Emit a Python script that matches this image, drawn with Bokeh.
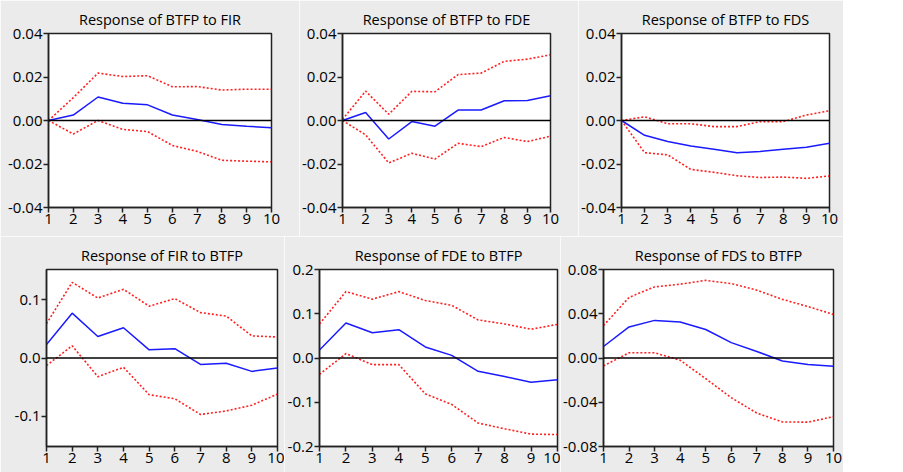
from bokeh.plotting import figure
from bokeh.layouts import column, row
from bokeh.models import Range1d, FixedTicker, NumeralTickFormatter, Span
from bokeh.embed import file_html
from bokeh.resources import INLINE

periods = [1, 2, 3, 4, 5, 6, 7, 8, 9, 10]

titles = ["Response of BTFP to FIR", "Response of BTFP to FDE", "Response of BTFP to FDS",
          "Response of FIR to BTFP", "Response of FDE to BTFP", "Response of FDS to BTFP"]

# Response of BTFP to FIR
btfp_fir = [0.0, 0.0025, 0.0108, 0.0079, 0.0072, 0.0025, 0.0005, -0.0018, -0.0027, -0.0033]
btfp_fir_up = [0.0, 0.0105, 0.0218, 0.0202, 0.0206, 0.0155, 0.0156, 0.0140, 0.0144, 0.0144]
btfp_fir_lo = [0.0, -0.0062, 0.0, -0.0041, -0.0051, -0.0115, -0.0142, -0.0183, -0.0187, -0.0190]

# Response of BTFP to FDE
btfp_fde = [0.0, 0.0037, -0.0085, -0.0005, -0.0026, 0.0048, 0.0048, 0.0091, 0.0092, 0.0114]
btfp_fde_up = [0.0005, 0.0135, 0.0029, 0.0134, 0.0132, 0.0211, 0.0218, 0.0272, 0.0282, 0.0302]
btfp_fde_lo = [0.0, -0.0066, -0.0195, -0.0151, -0.0177, -0.0105, -0.0120, -0.0078, -0.0097, -0.0072]

# Response of BTFP to FDS
btfp_fds = [0.0, -0.0068, -0.0097, -0.0117, -0.0132, -0.0148, -0.0142, -0.0132, -0.0123, -0.0105]
btfp_fds_up = [0.0, 0.0017, -0.0015, -0.0015, -0.0028, -0.0028, -0.0005, -0.0005, 0.0025, 0.0045]
btfp_fds_lo = [0.0, -0.0148, -0.0158, -0.0225, -0.0238, -0.0254, -0.0262, -0.0260, -0.0266, -0.0255]

# Response of FIR to BTFP
fir_btfp = [0.023, 0.077, 0.037, 0.052, 0.014, 0.016, -0.011, -0.009, -0.023, -0.017]
fir_btfp_up = [0.059, 0.130, 0.103, 0.118, 0.089, 0.102, 0.078, 0.072, 0.038, 0.036]
fir_btfp_lo = [-0.013, 0.021, -0.032, -0.016, -0.063, -0.070, -0.097, -0.091, -0.081, -0.062]

# Response of FDE to BTFP
fde_btfp = [0.018, 0.079, 0.057, 0.064, 0.025, 0.006, -0.030, -0.042, -0.055, -0.049]
fde_btfp_up = [0.077, 0.150, 0.133, 0.150, 0.130, 0.119, 0.086, 0.077, 0.065, 0.076]
fde_btfp_lo = [-0.037, 0.010, -0.015, -0.015, -0.081, -0.105, -0.147, -0.160, -0.172, -0.173]

# Response of FDS to BTFP
fds_btfp = [0.0104, 0.0281, 0.0340, 0.0326, 0.0258, 0.0139, 0.0059, -0.0027, -0.0059, -0.0074]
fds_btfp_up = [0.0293, 0.0548, 0.0643, 0.0667, 0.0702, 0.0673, 0.0613, 0.0530, 0.0465, 0.0394]
fds_btfp_lo = [-0.0071, 0.0047, 0.0047, -0.0020, -0.0187, -0.0359, -0.0498, -0.0578, -0.0580, -0.0530]

y_ticks_a = [-0.04, -0.02, 0.0, 0.02, 0.04]
y_ticks_fir = [-0.1, 0.0, 0.1]
y_ticks_fde = [-0.2, -0.1, 0.0, 0.1, 0.2]
y_ticks_fds = [-0.08, -0.04, 0.0, 0.04, 0.08]

FONT = "Open Sans"
BG = "#ebebeb"


def panel(title, mid, up, lo, yr, ticks, fmt, fw, fh, bl, br, bt, bb):
    p = figure(width=bl + fw + br, height=bt + fh + bb,
               min_border_left=bl, min_border_right=br,
               min_border_top=bt, min_border_bottom=bb,
               x_range=Range1d(1, 10), y_range=Range1d(*yr),
               output_backend="svg", toolbar_location=None)
    p.title.text = title
    p.title.align = "center"
    p.title.text_font = FONT
    p.title.text_font_size = "14.5px"
    p.title.text_font_style = "normal"
    p.title.text_color = "black"
    p.border_fill_color = BG
    p.background_fill_color = "white"
    p.outline_line_color = "#222222"
    p.outline_line_width = 1.5
    p.grid.visible = False
    for ax in (p.xaxis[0], p.yaxis[0]):
        ax.major_label_text_font = FONT
        ax.major_label_text_font_size = "15px"
        ax.major_label_text_color = "black"
        ax.axis_line_color = "#222222"
        ax.axis_line_width = 1.5
        ax.major_tick_line_color = "#222222"
        ax.major_tick_line_width = 1.5
        ax.major_tick_out = 5
        ax.major_tick_in = 0
        ax.minor_tick_line_color = None
        ax.major_label_standoff = 1
    p.xaxis.ticker = FixedTicker(ticks=periods)
    p.yaxis.ticker = FixedTicker(ticks=ticks)
    p.yaxis.formatter = NumeralTickFormatter(format=fmt)
    p.add_layout(Span(location=0, dimension="width", line_color="black", line_width=1.5))
    p.line(periods, up, line_color="#ff2020", line_width=1.6, line_dash="2 2")
    p.line(periods, lo, line_color="#ff2020", line_width=1.6, line_dash="2 2")
    p.line(periods, mid, line_color="#1a1aff", line_width=1.5)
    return p


p1 = panel(titles[0], btfp_fir, btfp_fir_up, btfp_fir_lo, (-0.04, 0.04), y_ticks_a, "0.00",
           223, 174, 48, 28, 33, 29)
p2 = panel(titles[1], btfp_fde, btfp_fde_up, btfp_fde_lo, (-0.04, 0.04), y_ticks_a, "0.00",
           223, 174, 28, 28, 33, 29)
p3 = panel(titles[2], btfp_fds, btfp_fds_up, btfp_fds_lo, (-0.04, 0.04), y_ticks_a, "0.00",
           223, 174, 28, 14, 33, 29)
p4 = panel(titles[3], fir_btfp, fir_btfp_up, fir_btfp_lo, (-0.152, 0.152), y_ticks_fir, "0.0",
           231, 179, 46, 7, 33, 24)
p5 = panel(titles[4], fde_btfp, fde_btfp_up, fde_btfp_lo, (-0.2, 0.2), y_ticks_fde, "0.0",
           239, 179, 34, 3, 32, 25)
p6 = panel(titles[5], fds_btfp, fds_btfp_up, fds_btfp_lo, (-0.08, 0.08), y_ticks_fds, "0.00",
           230, 181, 43, 10, 29, 26)

layout = column(row(p1, p2, p3, spacing=0), row(p4, p5, p6, spacing=0), spacing=0)

open("out.html", "w").write(file_html(layout, INLINE))
